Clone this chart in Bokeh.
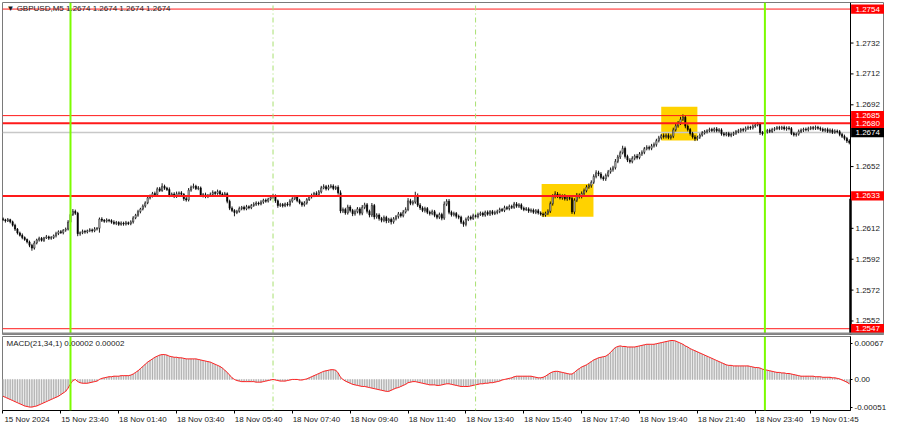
import numpy as np
from bokeh.plotting import figure
from bokeh.models import Range1d, FixedTicker, Span, Label
from bokeh.layouts import column
from bokeh.embed import file_html
from bokeh.resources import INLINE
from bokeh.core.properties import value

FONT = "Liberation Sans"
BASE = 1.26

# ---------------- data ----------------
# M5 closes, in pips above 1.2600, bar 0 = 15 Nov 21:40
close_pips = [
    17.5, 16.8, 17.6, 16.2, 14.0, 11.5, 9.0, 7.5, 6.0, 4.8, 3.2, 1.0, -0.8, 2.5, 4.5, 5.5, 4.2, 5.8, 6.5, 5.6,
    6.0, 7.2, 8.6, 9.8, 9.2, 10.8, 11.5, 16.0, 21.0, 23.0, 21.8, 8.5, 9.2, 10.0, 9.6, 10.5, 11.0, 10.4, 11.6, 12.0,
    18.0, 17.2, 16.6, 17.4, 17.0, 16.0, 15.2, 15.8, 14.6, 15.4, 14.8, 15.6, 15.0, 16.2, 18.8, 20.5, 22.8, 24.5, 26.4, 28.5,
    31.8, 33.0, 34.5, 33.8, 37.6, 36.5, 39.2, 38.0, 37.2, 33.5, 34.2, 32.8, 34.4, 35.0, 34.0, 31.2, 30.4, 36.8, 38.6, 39.2,
    37.8, 38.2, 33.2, 33.8, 32.6, 33.4, 34.0, 35.2, 34.6, 35.8, 34.2, 33.6, 34.4, 29.5, 25.0, 23.6, 22.2, 23.0, 24.8, 25.6,
    24.6, 26.0, 25.4, 26.8, 27.6, 28.4, 27.8, 29.0, 30.2, 29.6, 31.0, 32.2, 33.0, 29.8, 26.8, 27.4, 26.6, 27.8, 27.2, 29.6,
    31.2, 32.4, 30.0, 28.6, 27.2, 28.4, 30.6, 32.4, 33.2, 34.6, 33.8, 35.6, 38.2, 39.0, 37.6, 38.8, 39.4, 37.8, 38.6, 35.0,
    23.2, 24.2, 22.0, 25.8, 23.6, 21.4, 22.8, 24.6, 21.8, 25.6, 27.2, 23.0, 20.6, 26.8, 19.4, 20.6, 18.4, 17.2, 19.0, 16.8,
    17.8, 16.2, 18.2, 19.6, 21.4, 20.2, 22.6, 24.2, 29.8, 28.2, 29.0, 33.2, 27.0, 25.2, 23.6, 24.8, 22.4, 21.6, 22.8, 20.4,
    19.2, 21.0, 18.6, 27.6, 29.6, 22.4, 20.8, 21.6, 19.8, 19.2, 16.0, 14.6, 17.8, 19.2, 18.4, 20.2, 19.6, 21.0, 21.8, 20.6,
    22.4, 21.2, 22.8, 21.6, 22.2, 23.0, 24.2, 23.6, 25.4, 24.8, 26.2, 25.6, 27.8, 26.4, 27.2, 25.0, 24.2, 24.6, 23.2, 23.8,
    22.4, 23.4, 22.0, 21.2, 20.6, 21.8, 23.0, 28.0, 32.6, 34.2, 33.0, 31.8, 32.8, 31.2, 32.0, 31.4, 22.6, 30.2, 33.4, 32.6,
    34.6, 36.4, 38.8, 39.6, 41.8, 45.6, 48.0, 47.2, 45.0, 44.0, 46.2, 48.6, 50.0, 51.2, 55.4, 58.2, 61.0, 63.8, 58.6, 56.2,
    55.2, 57.4, 58.8, 57.8, 60.2, 61.2, 63.6, 64.4, 63.8, 65.4, 66.2, 68.8, 70.6, 72.0, 71.4, 72.2, 70.8, 71.6, 75.8, 78.4,
    80.2, 82.6, 84.0, 78.2, 76.0, 73.4, 71.2, 70.0, 71.0, 72.4, 73.8, 74.6, 75.2, 76.0, 75.4, 76.4, 75.2, 75.8, 73.2, 72.6,
    73.4, 72.2, 72.8, 73.6, 74.6, 75.2, 76.0, 75.6, 76.8, 77.4, 77.0, 78.2, 79.0, 79.6, 74.0, 73.2, 74.6, 75.4, 74.8, 76.0,
    76.6, 77.2, 76.8, 77.4, 76.4, 77.0, 76.6, 73.4, 72.6, 73.0, 74.8, 75.6, 76.2, 75.8, 76.6, 77.2, 76.8, 77.4, 76.8, 76.2,
    75.4, 76.0, 74.8, 75.6, 74.2, 75.0, 74.6, 72.8, 71.6, 70.2, 68.6, 67.6,
]
open_first_pips = 18.2

# wicks beyond the body, in tenths of a pip
upper_wick = [
    9, 7, 11, 6, 8, 10, 7, 9, 12, 8, 6, 9, 10, 14, 8, 11, 9, 7, 12, 8,
    10, 8, 12, 9, 11, 7, 10, 13, 20, 15, 11, 9, 8, 12, 10, 7, 11, 9, 12, 8,
    10, 12, 8, 11, 7, 9, 12, 10, 8, 11, 9, 12, 8, 10, 11, 9, 12, 8, 11, 10,
    12, 9, 11, 13, 10, 12, 20, 11, 9, 13, 10, 12, 14, 9, 11, 8, 12, 13, 11, 18,
    10, 12, 9, 11, 13, 8, 12, 14, 9, 13, 10, 11, 12, 9, 11, 12, 8, 10, 13, 9,
    11, 12, 9, 10, 13, 11, 9, 12, 10, 11, 8, 12, 13, 10, 9, 11, 10, 9, 12, 13,
    10, 12, 9, 11, 8, 12, 10, 11, 13, 10, 14, 12, 13, 15, 11, 14, 12, 11, 10, 13,
    16, 13, 11, 15, 12, 10, 14, 12, 11, 15, 14, 12, 11, 16, 10, 12, 11, 10, 13, 11,
    10, 12, 11, 10, 12, 11, 13, 14, 18, 13, 12, 25, 14, 13, 11, 12, 10, 11, 13, 11,
    10, 12, 11, 18, 13, 14, 11, 12, 10, 11, 10, 11, 12, 10, 11, 13, 10, 12, 11, 10,
    11, 12, 10, 11, 13, 11, 12, 10, 13, 11, 12, 11, 13, 12, 11, 10, 11, 12, 10, 11,
    10, 11, 12, 10, 11, 10, 13, 14, 15, 18, 13, 14, 12, 13, 11, 12, 14, 13, 15, 12,
    13, 14, 12, 15, 13, 14, 16, 13, 12, 11, 13, 12, 14, 13, 15, 14, 13, 17, 12, 11,
    12, 13, 11, 14, 12, 13, 11, 14, 12, 13, 14, 12, 13, 11, 14, 12, 13, 12, 14, 15,
    13, 16, 18, 12, 11, 10, 11, 12, 10, 11, 12, 11, 10, 12, 11, 10, 12, 11, 10, 11,
    10, 11, 12, 10, 11, 12, 10, 11, 12, 11, 10, 12, 11, 13, 9, 10, 11, 10, 12, 11,
    10, 11, 12, 10, 11, 10, 12, 10, 11, 10, 12, 11, 10, 11, 12, 10, 11, 12, 10, 11,
    11, 10, 12, 11, 10, 11, 10, 11, 10, 11, 10, 11,
]
lower_wick = [
    8, 11, 7, 10, 9, 12, 10, 8, 11, 9, 10, 12, 17, 10, 9, 11, 8, 10, 7, 11,
    10, 9, 11, 10, 8, 11, 10, 9, 11, 10, 11, 16, 13, 10, 11, 9, 10, 11, 9, 10,
    28, 11, 10, 9, 11, 10, 9, 11, 10, 9, 11, 10, 9, 10, 11, 9, 10, 11, 9, 10,
    9, 11, 10, 9, 11, 10, 9, 11, 10, 13, 10, 12, 11, 10, 9, 14, 11, 10, 11, 9,
    10, 11, 9, 12, 11, 10, 9, 10, 11, 9, 10, 11, 9, 13, 12, 11, 24, 10, 9, 11,
    10, 9, 11, 10, 9, 11, 10, 9, 11, 10, 9, 10, 11, 13, 15, 10, 11, 9, 10, 11,
    10, 9, 11, 10, 12, 11, 10, 9, 11, 10, 9, 11, 10, 9, 11, 10, 9, 11, 10, 12,
    14, 13, 12, 11, 13, 15, 12, 11, 14, 13, 12, 14, 15, 13, 16, 12, 14, 13, 12, 15,
    13, 17, 12, 11, 13, 12, 11, 10, 11, 12, 13, 11, 12, 13, 11, 14, 12, 13, 11, 12,
    13, 12, 14, 11, 12, 13, 12, 11, 14, 13, 12, 16, 13, 11, 12, 10, 11, 12, 10, 11,
    11, 10, 12, 11, 10, 11, 12, 10, 11, 10, 12, 11, 10, 11, 12, 10, 11, 10, 12, 11,
    10, 12, 11, 10, 13, 11, 12, 11, 13, 12, 14, 11, 13, 12, 14, 12, 13, 15, 12, 13,
    12, 13, 11, 12, 13, 11, 12, 14, 13, 12, 13, 11, 12, 13, 11, 12, 13, 11, 14, 13,
    12, 11, 13, 12, 11, 13, 12, 11, 13, 12, 11, 13, 12, 11, 13, 12, 11, 13, 12, 11,
    12, 13, 11, 14, 12, 13, 11, 15, 12, 11, 10, 11, 12, 10, 11, 12, 10, 11, 12, 11,
    10, 11, 12, 10, 11, 10, 12, 11, 10, 11, 12, 10, 11, 10, 15, 11, 10, 12, 11, 10,
    11, 10, 12, 11, 10, 12, 11, 10, 11, 12, 10, 11, 12, 10, 11, 10, 12, 11, 10, 11,
    10, 11, 10, 12, 11, 10, 11, 12, 11, 12, 13, 12,
]

# MACD(21,34,1) main value, in units of 0.00001
macd_e5 = [
    -31, -33, -35, -37, -39, -41, -43, -45, -47, -49, -50, -51, -51, -50, -49, -47, -45, -43, -41, -39,
    -37, -35, -33, -31, -28, -25, -22, -16, -8, -2, 0, -4, -6, -7, -7, -7, -6, -5, -4, -3,
    0, 2, 3, 4, 5, 5, 6, 6, 6, 7, 7, 7, 7, 8, 10, 13, 16, 20, 24, 28,
    32, 35, 38, 41, 43, 45, 46, 46, 45, 43, 42, 41, 41, 40, 40, 39, 38, 38, 38, 38,
    38, 37, 36, 35, 34, 33, 32, 30, 28, 26, 24, 21, 17, 13, 8, 3, 0, -2, -3, -4,
    -4, -4, -4, -4, -4, -5, -5, -5, -4, -3, -2, -1, 0, -1, -2, -3, -3, -3, -2, -1,
    0, 0, 0, -1, -1, 0, 1, 3, 5, 7, 9, 11, 13, 15, 16, 17, 18, 18, 17, 12,
    4, 0, -3, -5, -7, -9, -10, -11, -12, -13, -13, -14, -15, -16, -17, -18, -19, -20, -21, -22,
    -22, -20, -18, -16, -15, -13, -11, -9, -6, -5, -4, -4, -5, -6, -7, -8, -9, -10, -10, -10,
    -11, -11, -10, -9, -8, -8, -9, -10, -11, -12, -13, -13, -13, -13, -12, -11, -10, -9, -8, -8,
    -7, -7, -6, -6, -5, -4, -3, -1, 0, 1, 2, 3, 5, 6, 6, 6, 6, 6, 6, 6,
    5, 4, 3, 3, 4, 6, 9, 12, 14, 15, 15, 14, 13, 12, 11, 10, 10, 13, 17, 20,
    23, 25, 27, 30, 33, 36, 38, 40, 41, 42, 43, 46, 50, 55, 59, 61, 62, 61, 61, 60,
    60, 60, 60, 61, 62, 63, 64, 65, 65, 65, 65, 66, 67, 68, 69, 70, 71, 72, 72, 71,
    69, 67, 65, 62, 60, 57, 55, 53, 51, 49, 47, 45, 43, 41, 39, 37, 35, 33, 31, 29,
    27, 26, 26, 25, 25, 25, 25, 25, 25, 25, 24, 23, 22, 22, 21, 19, 18, 17, 16, 15,
    14, 13, 13, 12, 12, 11, 11, 10, 9, 8, 7, 6, 6, 6, 6, 6, 6, 5, 5, 5,
    4, 4, 4, 4, 3, 3, 2, 1, -1, -3, -5, -8,
]

level_prices = [1.2754, 1.2685, 1.2680, 1.2633, 1.2547]
level_widths = [1, 1, 2, 2, 1]
current_price = 1.2674
day_separator_bars = [28, 316]
session_bars = [112, 196]
box_left = [223.4, 273.0]
box_right = [244.9, 288.0]
box_bottom = [1.26195, 1.26689]
box_top = [1.26407, 1.26908]

price_ticks = [1.2732, 1.2712, 1.2692, 1.2652, 1.2612, 1.2592, 1.2572, 1.2552]
time_tick_bars = [0, 24, 48, 72, 96, 120, 144, 168, 192, 216, 240, 264, 288, 312, 335]
time_tick_labels = ["15 Nov 2024", "15 Nov 23:40", "18 Nov 01:40", "18 Nov 03:40", "18 Nov 05:40",
                    "18 Nov 07:40", "18 Nov 09:40", "18 Nov 11:40", "18 Nov 13:40", "18 Nov 15:40",
                    "18 Nov 17:40", "18 Nov 19:40", "18 Nov 21:40", "18 Nov 23:40", "19 Nov 01:45"]
macd_ticks = [67, 0, -51]
macd_tick_labels = ["0.00067", "0.00", "-0.00051"]

title_text = "\u25BC GBPUSD,M5  1.2674 1.2674 1.2674 1.2674"
macd_text = "MACD(21,34,1) 0.00002 0.00002"

# ---------------- derived series ----------------
n = len(close_pips)
idx = np.arange(n)
close = BASE + np.array(close_pips) / 1e4
open_ = np.concatenate([[BASE + open_first_pips / 1e4], close[:-1]])
high = np.maximum(open_, close) + np.array(upper_wick) / 1e5
low = np.minimum(open_, close) - np.array(lower_wick) / 1e5
bull = close >= open_
bear = ~bull

# ---------------- geometry ----------------
FRAME_W = 848           # width of the chart area (bars)
SCALE_W = 34            # price-scale strip
X0, XA = -0.2, 351.5    # bar range of the chart area; XA = price-scale line
PPB = FRAME_W / (XA - X0)
XE = XA + SCALE_W / PPB # right end of main frame (includes price scale)
Y0, Y1 = 1.254325, 1.275825
MAIN_H = 332
PPP = MAIN_H / (Y1 - Y0)   # pixels per price unit
TXT = "#1a1a1a"

main = figure(frame_width=FRAME_W + SCALE_W, frame_height=MAIN_H, x_range=Range1d(X0, XE),
              y_range=Range1d(Y0, Y1), output_backend="svg",
              toolbar_location=None, x_axis_location=None, y_axis_location=None,
              min_border_left=2, min_border_right=0, min_border_top=2, min_border_bottom=1)
main.grid.visible = False
main.outline_line_color = "#7a7a7a"
main.background_fill_color = "white"
main.border_fill_color = "white"

# yellow boxes (behind candles)
main.quad(left=box_left, right=box_right, bottom=box_bottom, top=box_top,
          fill_color="#FFD200", line_color=None)

# current price line (behind candles)
main.segment(x0=[X0], y0=[current_price], x1=[XA], y1=[current_price],
             line_color="#c8c8c8", line_width=1.5)

# candles
main.segment(x0=idx, y0=low, x1=idx, y1=high, line_color="#000000", line_width=0.9)
main.vbar(x=idx[bull], bottom=open_[bull], top=close[bull], width=0.5,
          fill_color="#ffffff", line_color="#000000", line_width=0.6)
main.vbar(x=idx[bear], bottom=close[bear], top=open_[bear], width=0.5,
          fill_color="#000000", line_color="#000000", line_width=0.6)

# horizontal levels (end at the price scale)
for lv, lw in zip(level_prices, level_widths):
    main.segment(x0=[X0], y0=[lv], x1=[XA], y1=[lv], line_color="#ff1a1a", line_width=lw)

for b in day_separator_bars:
    main.segment(x0=[b], y0=[Y0], x1=[b], y1=[Y1], line_color="#7CFC00", line_width=2)
for b in session_bars:
    main.segment(x0=[b], y0=[Y0], x1=[b], y1=[Y1], line_color="#a8e070",
                 line_width=1, line_dash="5 3 1 3")

# separator band at the bottom of the main panel
main.add_layout(Span(location=Y0, dimension="width", line_color="#8a8a8a", line_width=4))

# ---- price scale (drawn inside the frame strip) ----
main.segment(x0=[XA], y0=[Y0], x1=[XA], y1=[Y1], line_color="#000000", line_width=1)
main.segment(x0=[XA], y0=[level_prices[3] - 0.00018], x1=[XA], y1=[Y0],
             line_color="#000000", line_width=2.5)
tick_len = 3 / PPB
main.segment(x0=[XA] * len(price_ticks), y0=price_ticks,
             x1=[XA + tick_len] * len(price_ticks), y1=price_ticks,
             line_color="#000000", line_width=1)
lab_x = XA + 5 / PPB
main.text(x=[lab_x] * len(price_ticks), y=price_ticks, text=[f"{t:.4f}" for t in price_ticks],
          text_font=value(FONT), text_font_size=value("8px"), text_color=TXT,
          text_align="left", text_baseline="middle")

# coloured level tags
tag_h = 9.2 / PPP
tag_prices = level_prices + [current_price]
tag_colors = ["#ff0000"] * len(level_prices) + ["#000000"]
main.quad(left=[XA + 0.6 / PPB] * len(tag_prices), right=[XE] * len(tag_prices),
          bottom=[p - tag_h / 2 for p in tag_prices], top=[p + tag_h / 2 for p in tag_prices],
          fill_color=tag_colors, line_color=None)
main.text(x=[lab_x] * len(tag_prices), y=tag_prices, text=[f"{p:.4f}" for p in tag_prices],
          text_font=value(FONT), text_font_size=value("8px"), text_color="white",
          text_align="left", text_baseline="middle")

main.add_layout(Label(x=X0, y=Y1, x_offset=4, y_offset=-6, text=title_text,
                      text_font=FONT, text_font_size="8px", text_color=TXT,
                      text_align="left", text_baseline="middle"))

# ---------------- MACD panel ----------------
M0, M1 = -57.4, 79.4
macd = figure(frame_width=FRAME_W, frame_height=74, x_range=Range1d(X0, XA),
              y_range=Range1d(M0, M1), output_backend="svg", toolbar_location=None,
              y_axis_location="right", x_axis_location="below",
              min_border_left=2, min_border_right=SCALE_W, min_border_top=1, min_border_bottom=0)
macd.grid.visible = False
macd.outline_line_color = "#7a7a7a"

macd.vbar(x=idx, bottom=0, top=macd_e5, width=0.4, fill_color="#b0b0b0",
          line_color="#b0b0b0", line_width=0.5)
macd.line(idx, macd_e5, line_color="#ff2020", line_width=1)

for b in day_separator_bars:
    macd.add_layout(Span(location=b, dimension="height", line_color="#7CFC00", line_width=2))
for b in session_bars:
    macd.add_layout(Span(location=b, dimension="height", line_color="#a8e070",
                         line_width=1, line_dash="5 3 1 3"))

macd.add_layout(Label(x=X0, y=M1, x_offset=4, y_offset=-7, text=macd_text,
                      text_font=FONT, text_font_size="8px", text_color=TXT,
                      text_align="left", text_baseline="middle"))

LABEL_SHIFT = 10
xax = macd.xaxis[0]
xax.ticker = FixedTicker(ticks=[b + LABEL_SHIFT for b in time_tick_bars], minor_ticks=time_tick_bars)
xax.major_label_overrides = {b + LABEL_SHIFT: t for b, t in zip(time_tick_bars, time_tick_labels)}
xax.major_tick_line_color = None
xax.major_tick_out = 3
xax.major_tick_in = 0
xax.minor_tick_out = 3
xax.minor_tick_in = 0
xax.minor_tick_line_color = "#000000"
xax.major_label_standoff = 1
xax.major_label_text_font = FONT
xax.major_label_text_font_size = "8px"
xax.major_label_text_color = TXT
xax.axis_line_color = "#000000"

yax = macd.yaxis[0]
yax.ticker = FixedTicker(ticks=macd_ticks)
yax.major_label_overrides = {t: s for t, s in zip(macd_ticks, macd_tick_labels)}
yax.major_label_text_font = FONT
yax.major_label_text_font_size = "8px"
yax.major_label_text_color = TXT
yax.major_tick_out = 2
yax.major_tick_in = 0
yax.minor_tick_line_color = None
yax.major_label_standoff = 2
yax.axis_line_color = "#000000"

layout = column(main, macd)
open("out.html", "w").write(file_html(layout, INLINE))
